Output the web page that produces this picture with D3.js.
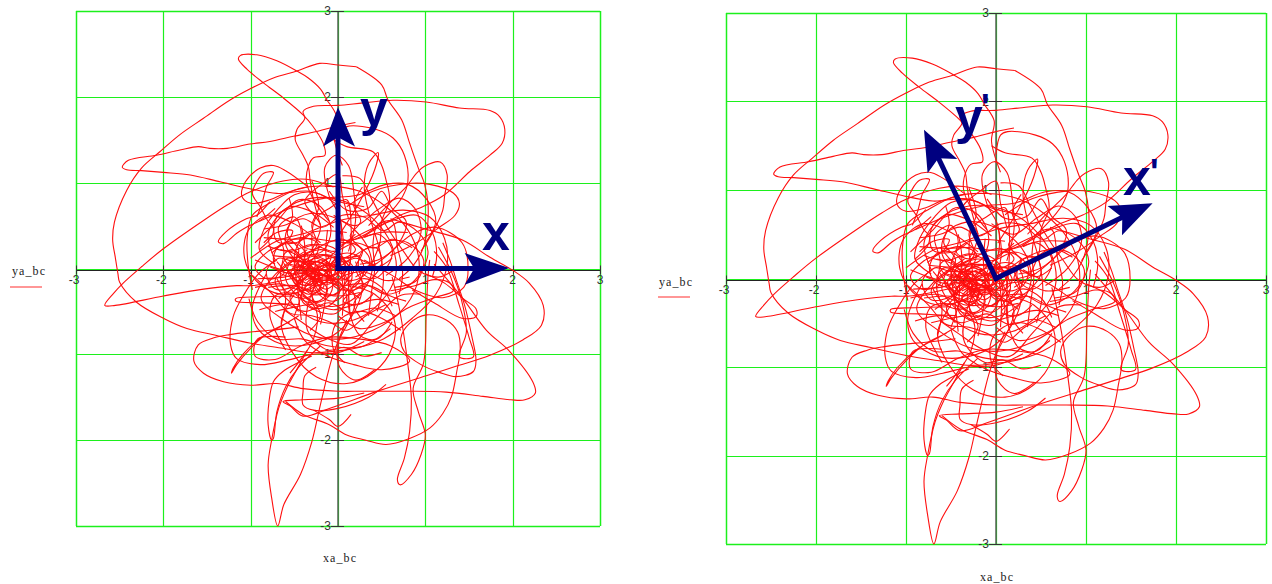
<!DOCTYPE html>
<html><head><meta charset="utf-8">
<script src="https://cdn.jsdelivr.net/npm/d3@7"></script>
<style>html,body{margin:0;padding:0;background:#fff}svg{display:block}</style>
</head><body><svg id="c" width="1272" height="584"></svg>
<script>
const tickValues=[-3,-2,-1,0,1,2,3];
const tickLabels=["-3","-2","-1","","1","2","3"];
const seriesName="ya_bc", xName="xa_bc";
// Trace of ya_bc against xa_bc, stroke by stroke
const bigLeftLoop=[[0.21,2.35],[0,2.37],[-0.21,2.39],[-0.47,2.30],[-0.74,2.22],[-1.01,2.09],[-1.24,1.96],[-1.54,1.75],[-1.81,1.56],[-2.04,1.36],[-2.25,1.17],[-2.42,0.91],[-2.56,0.54],[-2.58,0.33],[-2.55,0.13],[-2.52,-0.06],[-2.5,-0.16],[-2.31,-0.39],[-2,-0.58],[-1.73,-0.7],[-1.39,-0.78],[-1,-0.87],[-0.63,-0.93],[-0.32,-0.98],[0,-0.96],[0.3,-0.9],[0.6,-0.7]];
const topRightFall=[[0.21,2.35],[0.5,2.14],[0.57,1.97],[0.73,1.73],[0.82,1.46],[0.92,1.17],[0.99,0.99],[1.03,0.76],[1.03,0.55],[1.01,0.37],[0.96,0.2],[0.85,0.02],[0.7,-0.12]];
const leftTip=[[0.05,0.12],[-0.3,-0.05],[-0.7,-0.155],[-0.99,-0.2],[-1.16,-0.2],[-1.54,-0.24],[-2,-0.32],[-2.55,-0.43],[-2.67,-0.43],[-2.57,-0.29],[-2.46,-0.17],[-2.25,0.02],[-2,0.23],[-1.54,0.56],[-1.27,0.74],[-1.01,0.89],[-0.63,1.02],[-0.36,1.04],[-0.05,0.95]];
const midLeftTip=[[0.2,1.7],[0,1.66],[-0.23,1.6],[-0.51,1.54],[-0.78,1.48],[-1.01,1.45],[-1.27,1.4],[-1.47,1.4],[-1.6,1.42],[-1.81,1.38],[-2.08,1.32],[-2.4,1.26],[-2.47,1.18],[-2.42,1.15],[-2.25,1.14],[-2,1.12],[-1.69,1.09],[-1.35,1.01],[-1.01,0.93],[-0.7,0.875],[-0.32,0.9],[0,0.78],[0.3,0.72]];
const topPeak=[[0.05,1.2],[-0.05,1.55],[-0.02,1.78],[-0.13,1.97],[-0.2,2.09],[-0.34,2.22],[-0.47,2.3],[-0.7,2.42],[-0.93,2.49],[-1.12,2.48],[-1.14,2.44],[-1.04,2.32],[-0.85,2.16],[-0.63,1.99],[-0.4,1.79],[-0.29,1.66],[-0.17,1.46],[-0.15,1.32],[-0.28,1.29],[-0.34,1.19],[-0.36,1.0],[-0.25,0.75],[-0.1,0.55]];
const rightTopLoop=[[0.29,0.37],[0.67,0.6],[0.97,0.72],[1.22,0.86],[1.51,1.13],[1.74,1.32],[1.88,1.46],[1.91,1.62],[1.85,1.77],[1.74,1.84],[1.39,1.87],[1.01,1.94],[0.63,1.96],[0.29,1.93],[0,1.9],[-0.28,1.89],[-0.4,1.83],[-0.38,1.75],[-0.47,1.62],[-0.49,1.5],[-0.4,1.32],[-0.34,1.19],[-0.32,1.03],[-0.28,0.8],[-0.2,0.5]];
const bump=[[0.35,0.5],[0.59,0.76],[0.78,0.95],[0.9,1.11],[0.99,1.19],[1.17,1.24],[1.25,1.09],[1.22,0.84],[1.2,0.68],[1.1,0.45],[0.95,0.2]];
const innerRightA=[[0.0,1.4],[0.05,1.62],[0.13,1.66],[0.44,1.62],[0.63,1.52],[0.76,1.32],[0.8,1.01],[0.74,0.84],[0.55,0.6],[0.35,0.42],[0.1,0.3]];
const innerRightB=[[-0.05,1.5],[0.1,1.42],[0.4,1.36],[0.5,1.2],[0.55,1.03],[0.59,0.8],[0.5,0.55],[0.48,0.3],[0.38,0.05]];
const loopRight=[[0.1,0.72],[0.4,0.9],[0.8,0.99],[1.05,0.98],[1.32,0.88],[1.39,0.76],[1.34,0.62],[1.16,0.48],[0.9,0.3],[0.6,0.15]];
const farRightLobe=[[0.6,0.58],[1.0,0.46],[1.43,0.33],[1.74,0.13],[2.0,-0.02],[2.19,-0.17],[2.35,-0.43],[2.33,-0.66],[2.12,-0.83],[1.74,-1.01],[1.35,-1.14],[1.01,-1.25],[0.48,-1.42],[-0.1,-1.63],[-0.4,-1.72],[-0.55,-1.6],[-0.63,-1.55],[-0.4,-1.53],[0,-1.51],[0.3,-1.45]];
const lowerRightTip=[[1.0,-0.06],[1.22,-0.17],[1.43,-0.35],[1.58,-0.47],[1.58,-0.56],[1.42,-0.58],[1.1,-0.4],[0.85,-0.25]];
const longDiagonal=[[1.1,0.05],[1.43,-0.35],[1.7,-0.72],[1.97,-0.97],[2.23,-1.32],[2.26,-1.45],[2.14,-1.53],[1.98,-1.53],[1.66,-1.49],[1.24,-1.44],[0.78,-1.43],[0.29,-1.43],[0,-1.43],[-0.4,-1.4],[-0.7,-1.34],[-1,-1.36],[-1.31,-1.32],[-1.54,-1.22],[-1.65,-1.08],[-1.6,-0.89],[-1.43,-0.81],[-1.24,-0.77],[-1,-0.74],[-0.78,-0.72],[-0.45,-0.68]];
const bottomLobe=[[-0.35,-0.95],[-0.44,-1.12],[-0.59,-1.4],[-0.68,-1.63],[-0.76,-2.0],[-0.8,-2.29],[-0.76,-2.67],[-0.69,-3.0],[-0.62,-2.75],[-0.43,-2.4],[-0.3,-2.02],[-0.22,-1.67],[-0.13,-1.28],[-0.07,-1.05],[0,-0.85],[0.1,-0.6]];
const narrowLoop=[[-0.3,-1.02],[-0.63,-1.2],[-0.74,-1.32],[-0.79,-1.55],[-0.8,-1.82],[-0.76,-2.0],[-0.74,-1.98],[-0.7,-1.67],[-0.6,-1.38],[-0.45,-1.15],[-0.2,-0.9]];
const smallLeftLoop=[[-0.45,-0.55],[-0.63,-0.66],[-0.89,-0.81],[-1.09,-1.0],[-1.2,-1.16],[-1.22,-1.22],[-1.16,-1.12],[-1,-0.93],[-0.8,-0.75],[-0.55,-0.62]];
const wideLeftLoop=[[-0.7,0.1],[-0.9,-0.05],[-1.08,-0.31],[-1.2,-0.56],[-1.23,-0.89],[-1.16,-1.05],[-0.89,-1.12],[-0.59,-1.07],[-0.3,-1.0],[0.0,-0.98],[0.3,-0.85]];
const leftBar=[[-0.5,-0.32],[-0.9,-0.33],[-1.17,-0.35],[-1.17,-0.38],[-0.85,-0.4],[-0.45,-0.42]];
const bottomRightLoop=[[-0.6,-1.55],[-0.4,-1.7],[-0.1,-1.82],[0.1,-1.94],[0.32,-2],[0.55,-2.05],[0.82,-1.98],[1.05,-1.86],[1.2,-1.69],[1.3,-1.49],[1.36,-1.2],[1.4,-0.93],[1.37,-0.74],[1.24,-0.6],[1.01,-0.54],[0.82,-0.64],[0.72,-0.81],[0.76,-0.97],[0.95,-1.12],[1.16,-1.21],[1.35,-1.26],[1.55,-1.2],[1.58,-1.07],[1.53,-0.78],[1.45,-0.43],[1.35,-0.12],[1.28,0.1],[1.2,0.3]];
const rightNarrowLobe=[[0.62,-0.1],[0.67,-0.31],[0.73,-0.62],[0.8,-1.12],[0.84,-1.51],[0.82,-1.9],[0.76,-2.21],[0.68,-2.46],[0.71,-2.52],[0.84,-2.4],[0.95,-2.17],[1,-1.94],[0.92,-1.67],[0.86,-1.4],[0.98,-1.1],[1.01,-0.54],[1.03,-0.1],[1.05,0.1]];
const rightSpire=[[1.15,0.25],[1.3,-0.04],[1.41,-0.35],[1.47,-0.74],[1.39,-1.03],[1.55,-1.03],[1.5,-0.8],[1.38,-0.4],[1.25,0],[1.1,0.2]];
const lowerLeftHook=[[-0.25,-1.15],[-0.38,-1.25],[-0.4,-1.43],[-0.4,-1.59],[-0.28,-1.65],[0,-1.63],[0.35,-1.5],[0.55,-1.35]];
const hookDown=[[-0.28,-1.65],[-0.1,-1.76],[0,-1.84],[0.15,-1.7]];
const upperLeftBlob=[[-0.34,0.95],[-0.6,1.14],[-0.74,1.2],[-0.89,1.17],[-1.06,1.01],[-1.1,0.84],[-1,0.76],[-0.78,0.8],[-0.6,0.88],[-0.35,0.95]];
const slimLoopA=[[-0.93,0.6],[-0.87,0.76],[-0.82,0.95],[-0.74,1.12],[-0.85,1.11],[-0.93,1.01],[-0.98,0.87],[-0.89,0.72],[-0.8,0.55],[-0.74,0.48],[-0.76,0.37],[-0.9,0.22]];
const slimLoopB=[[-0.72,0.7],[-0.89,0.56],[-1.05,0.48],[-1.16,0.41],[-1.31,0.29],[-1.37,0.31],[-1.28,0.43],[-1.05,0.58],[-0.93,0.62],[-0.78,0.78]];
const ringA=[[-0.98,-0.25],[-1.03,0.05],[-1.04,0.35],[-0.98,0.62],[-0.75,0.78],[-0.45,0.93],[-0.1,0.96],[0.25,0.9],[0.55,0.72],[0.8,0.45],[0.92,0.15],[0.9,-0.2],[0.72,-0.5],[0.4,-0.72],[0.05,-0.82],[-0.3,-0.78],[-0.65,-0.58],[-0.88,-0.35],[-0.7,-0.05],[-0.35,0.22]];
const ringB=[[-0.72,0.1],[-0.8,0.4],[-0.62,0.68],[-0.3,0.82],[0.08,0.78],[0.4,0.58],[0.62,0.26],[0.66,-0.08],[0.48,-0.4],[0.18,-0.6],[-0.2,-0.62],[-0.52,-0.42],[-0.72,-0.14],[-0.5,0.1],[-0.2,0.25]];
const ringC=[[-1.0,0.12],[-0.7,0.32],[-0.35,0.42],[0.02,0.56],[0.38,0.62],[0.75,0.68],[1.05,0.6],[1.22,0.35],[1.25,0.05],[1.12,-0.3],[0.85,-0.58],[0.52,-0.82],[0.2,-0.92],[-0.12,-0.9],[-0.42,-0.82],[-0.7,-0.82],[-0.92,-0.62],[-1.02,-0.35]];
const ringD=[[-0.42,0.02],[-0.6,0.28],[-0.55,0.52],[-0.32,0.64],[-0.06,0.6],[0.2,0.44],[0.36,0.2],[0.38,-0.08],[0.22,-0.32],[-0.04,-0.44],[-0.3,-0.38],[-0.46,-0.18],[-0.3,0.06]];
const ringE=[[0.2,-0.1],[0.5,0.1],[0.85,0.4],[1.12,0.48],[1.42,0.3],[1.49,0],[1.44,-0.22],[1.2,-0.34],[0.9,-0.26],[0.62,-0.08],[0.3,0.1]];
const ringF=[[0.6,-0.26],[0.88,-0.2],[1.1,-0.13],[1.28,-0.17],[1.32,-0.26],[1.1,-0.34],[0.8,-0.46],[0.55,-0.62],[0.25,-0.7],[0,-0.55]];
const ringG=[[-0.2,0.3],[-0.5,0.52],[-0.8,0.62],[-1.03,0.44],[-1.07,0.12],[-0.92,-0.16],[-0.65,-0.3],[-0.32,-0.22],[-0.12,-0.02],[0.02,0.25],[0.02,0.6],[-0.1,0.84],[-0.15,1.18],[-0.02,1.32],[0.12,1.2],[0.18,0.9],[0.2,0.55],[0.12,0.2]];
const ringH=[[0.02,0.4],[0.25,0.78],[0.42,1.15],[0.46,1.35],[0.35,1.22],[0.3,0.95],[0.36,0.62],[0.48,0.2],[0.52,-0.15],[0.45,-0.5]];
const ringI=[[-0.6,-0.8],[-0.92,-0.82],[-0.95,-1.02],[-0.72,-1.06],[-0.42,-0.9],[-0.1,-0.8],[0.24,-0.82],[0.6,-0.9],[0.82,-1.08],[0.5,-1.18],[0.18,-1.12],[-0.12,-1.02],[-0.38,-0.84],[-0.5,-0.58]];
const ringJ=[[-0.5,-0.3],[-0.65,-0.62],[-0.52,-0.98],[-0.25,-1.26],[0.1,-1.34],[0.42,-1.2],[0.62,-0.92],[0.64,-0.58],[0.42,-0.3],[0.15,-0.2]];
const ringK=[[0.42,-1.18],[0.2,-1.3],[0.02,-1.15],[0,-0.88],[0.12,-0.62],[0.2,-0.38],[0.1,-0.12],[-0.02,0.15]];
const ringL=[[-0.82,-0.06],[-0.98,-0.45],[-0.92,-0.7],[-0.65,-0.88],[-0.3,-0.88],[0,-0.74],[0.2,-0.48],[0.28,-0.2],[0.2,0.08]];
const ringM=[[-0.85,0.46],[-0.62,0.5],[-0.4,0.58],[-0.18,0.48],[0.05,0.62],[0.3,0.6],[0.52,0.44],[0.7,0.54],[0.92,0.42],[1.03,0.2],[0.95,-0.04],[0.78,-0.22],[0.55,-0.3],[0.3,-0.18],[0.08,-0.2]];
const ringN=[[-0.56,0.82],[-0.52,0.62],[-0.58,0.4],[-0.45,0.22],[-0.5,0.02],[-0.42,-0.15],[-0.55,-0.34],[-0.45,-0.5]];
const ringO=[[0.28,0.95],[0.18,0.74],[0.26,0.55],[0.14,0.38],[0.28,0.2],[0.2,0],[0.3,-0.22],[0.18,-0.42],[0.3,-0.62]];
const ringP=[[-0.3,1.02],[-0.22,0.72],[-0.3,0.5],[-0.24,0.28],[-0.34,0.1],[-0.22,-0.1],[-0.3,-0.3],[-0.2,-0.55],[-0.32,-0.72]];
const ringQ=[[-0.8,0.26],[-0.55,0.2],[-0.3,0.28],[-0.05,0.2],[0.2,0.3],[0.42,0.24],[0.62,0.34],[0.85,0.24]];
const ringR=[[-0.95,-0.22],[-0.65,-0.18],[-0.4,-0.26],[-0.12,-0.16],[0.12,-0.26],[0.35,-0.2],[0.6,-0.32],[0.78,-0.38]];
const ringS=[[-0.78,0.02],[-0.5,-0.06],[-0.28,0.08],[-0.02,0.02],[0.2,0.12],[0.45,0.02],[0.62,0.12]];
const ringT=[[-0.9,-0.48],[-0.6,-0.42],[-0.38,-0.5],[-0.1,-0.4],[0.15,-0.52],[0.42,-0.46],[0.66,-0.55]];
const coreA=[[-0.62,0.06],[-0.5,-0.12],[-0.36,-0.2],[-0.22,-0.1],[-0.26,0.06],[-0.42,0.1],[-0.5,0],[-0.42,-0.14],[-0.22,-0.2],[-0.08,-0.08],[-0.12,0.08],[-0.3,0.14],[-0.42,0.04],[-0.32,-0.08],[-0.14,-0.12],[0,-0.04],[-0.02,0.1],[-0.2,0.16],[-0.34,0.06]];
const coreB=[[-0.3,0.02],[-0.18,-0.26],[-0.02,-0.3],[0.08,-0.14],[-0.02,0.02],[-0.2,0.02],[-0.28,-0.14],[-0.14,-0.32],[0.04,-0.24],[0.12,-0.04],[0,0.12],[-0.18,0.08],[-0.3,-0.06],[-0.22,-0.3],[-0.05,-0.38],[0.1,-0.26],[0.16,-0.06],[0.04,0.14]];
const coreC=[[-0.7,-0.12],[-0.56,-0.3],[-0.36,-0.34],[-0.2,-0.22],[-0.24,-0.04],[-0.44,0.02],[-0.6,-0.08],[-0.52,-0.26],[-0.32,-0.4],[-0.12,-0.34],[-0.06,-0.16],[-0.22,0.02],[-0.42,0.08],[-0.58,0.12],[-0.66,0.0]];
const coreD=[[-0.4,0.24],[-0.22,0.28],[-0.02,0.22],[0.08,0.04],[-0.08,-0.08],[-0.28,-0.02],[-0.38,0.14],[-0.2,0.22],[0.02,0.14],[0.14,0.1],[0.04,-0.1],[-0.16,-0.14],[-0.34,-0.08],[-0.46,0.08],[-0.3,0.2]];
const coreE=[[-0.46,-0.28],[-0.28,-0.46],[-0.08,-0.42],[0.02,-0.24],[-0.14,-0.1],[-0.34,-0.18],[-0.42,-0.36],[-0.22,-0.5],[-0.02,-0.52],[0.1,-0.36],[0.02,-0.16],[-0.2,-0.08],[-0.38,-0.14]];
const coreF=[[-0.76,0.18],[-0.6,0.3],[-0.4,0.36],[-0.22,0.28],[-0.3,0.1],[-0.5,0.08],[-0.68,0.12],[-0.82,-0.04],[-0.72,-0.24],[-0.5,-0.2],[-0.34,-0.02],[-0.48,0.16],[-0.66,0.22]];
const coreG=[[0.02,0.3],[0.2,0.28],[0.36,0.12],[0.3,-0.08],[0.12,-0.14],[-0.04,-0.02],[0.02,0.16],[0.2,0.16],[0.3,0],[0.18,-0.22],[0,-0.24],[-0.12,-0.06],[-0.08,0.12]];
const coreH=[[-0.38,-0.04],[-0.3,-0.1],[-0.22,-0.04],[-0.16,0.04],[-0.24,0.08],[-0.34,0.02],[-0.26,-0.06],[-0.14,-0.06],[-0.08,0.02],[-0.16,0.1],[-0.28,0.06],[-0.36,-0.06],[-0.28,-0.14],[-0.16,-0.14],[-0.06,-0.08],[-0.02,0.02],[-0.12,0.06],[-0.24,0],[-0.32,-0.08],[-0.22,-0.16],[-0.1,-0.18],[-0.02,-0.1],[0.02,0],[-0.08,0.06]];
const coreI=[[-0.55,-0.04],[-0.46,-0.14],[-0.36,-0.1],[-0.38,0],[-0.48,0.04],[-0.54,-0.06],[-0.44,-0.18],[-0.3,-0.18],[-0.26,-0.06],[-0.36,0.04],[-0.5,0.1],[-0.58,0],[-0.5,-0.16],[-0.36,-0.26],[-0.22,-0.24],[-0.18,-0.1]];
const coreJ=[[-0.05,0.02],[0.04,-0.06],[0.12,0.02],[0.06,0.1],[-0.04,0.1],[-0.1,0],[-0.02,-0.12],[0.1,-0.12],[0.18,-0.02],[0.12,0.08],[0,0.06],[-0.1,-0.06],[-0.04,-0.18],[0.08,-0.2],[0.16,-0.12]];
const coreK=[[-0.42,0.14],[-0.52,0.22],[-0.62,0.16],[-0.58,0.06],[-0.46,0.02],[-0.34,0.1],[-0.38,0.2],[-0.5,0.3],[-0.66,0.28],[-0.74,0.12],[-0.68,-0.04],[-0.54,-0.1]];
const coreL=[[-0.18,-0.3],[-0.3,-0.3],[-0.38,-0.22],[-0.3,-0.12],[-0.18,-0.16],[-0.12,-0.26],[-0.22,-0.38],[-0.36,-0.34],[-0.46,-0.2],[-0.4,-0.08],[-0.26,-0.02]];
const coreM=[[0.1,0.42],[-0.1,0.44],[-0.3,0.42],[-0.44,0.3],[-0.3,0.22],[-0.12,0.3],[0.06,0.34],[0.2,0.22],[0.06,0.12],[-0.12,0.16],[-0.26,0.12]];
const coreN=[[0.3,0.36],[0.46,0.4],[0.62,0.22],[0.55,0],[0.4,-0.12],[0.24,0],[0.28,0.2],[0.44,0.24],[0.5,0.06],[0.36,-0.14],[0.2,-0.24],[0.06,-0.38],[0.24,-0.42],[0.4,-0.3]];
const coreO=[[-0.85,0.3],[-0.7,0.42],[-0.52,0.44],[-0.6,0.3],[-0.8,0.2],[-0.95,0.02],[-0.82,-0.12],[-0.62,-0.06],[-0.7,0.08]];
const arcA=[[-0.9,0.55],[-0.5,0.72],[-0.15,0.82],[0.2,0.85],[0.55,0.98],[0.8,0.98],[1.02,0.8],[1.12,0.55],[1.0,0.3]];
const arcB=[[0,0.25],[0.3,0.42],[0.6,0.55],[0.9,0.62],[1.08,0.42],[1.13,0.15],[1.08,-0.1]];
const arcC=[[-0.1,0.9],[0.1,0.68],[0.34,0.7],[0.5,0.9],[0.62,0.7],[0.78,0.55],[0.7,0.3],[0.5,0.12],[0.25,0.05]];
const arcD=[[0.05,1.08],[0.25,1.05],[0.38,0.82],[0.55,0.5],[0.75,0.2],[0.92,-0.02],[1.15,-0.1],[1.32,-0.02]];
const arcE=[[-0.05,0.62],[0.2,0.5],[0.45,0.68],[0.7,0.82],[0.88,0.7],[0.95,0.42],[0.8,0.12],[0.55,-0.08]];
const arcF=[[0.05,0.04],[0.3,0.22],[0.55,0.32],[0.8,0.3],[0.98,0.1],[0.9,-0.14],[0.65,-0.22]];
const arcG=[[-0.05,0.48],[-0.3,0.66],[-0.55,0.72],[-0.72,0.56],[-0.7,0.32],[-0.48,0.3],[-0.32,0.4]];
const arcH=[[-0.95,0.3],[-0.7,0.55],[-0.45,0.8],[-0.2,0.72],[-0.08,0.45],[-0.18,0.2],[-0.42,0.16]];
const arcI=[[-0.02,0.75],[-0.25,0.88],[-0.5,0.86],[-0.68,0.7],[-0.85,0.45],[-0.9,0.22],[-0.72,0.05]];
const arcJ=[[-0.3,0.22],[-0.2,0.5],[-0.38,0.78],[-0.16,1.0],[0,1.1],[0.05,0.85],[0.12,0.58]];
const arcK=[[-0.98,-0.08],[-0.75,-0.3],[-0.55,-0.52],[-0.3,-0.55],[-0.1,-0.62],[0.1,-0.72],[0.32,-0.55],[0.55,-0.42]];
const arcL=[[-0.2,-0.05],[-0.35,-0.45],[-0.35,-0.72],[-0.12,-0.95],[0.08,-0.92],[0.28,-1.02],[0.5,-0.98]];
const arcM=[[-0.6,-0.95],[-0.78,-0.55],[-0.72,-0.32],[-0.45,-0.3],[-0.25,-0.48],[-0.28,-0.82],[-0.42,-1.05],[-0.55,-1.22]];
const arcN=[[0.72,-0.72],[0.5,-0.58],[0.28,-0.5],[0.08,-0.55],[-0.05,-0.7],[-0.05,-0.95],[0.08,-1.1]];
const arcO=[[0.62,-0.62],[0.45,-0.82],[0.25,-0.78],[0.12,-0.32],[0.28,-0.12],[0.5,-0.22],[0.62,-0.44]];
const arcP=[[0.95,-0.3],[0.7,-0.32],[0.42,-0.6],[0.15,-0.88],[-0.15,-0.8],[-0.42,-0.62],[-0.62,-0.48]];
const zigA=[[-0.95,0.1],[-0.6,-0.02],[-0.35,0.0],[-0.1,-0.02],[0.15,-0.02],[0.45,0.06]];
const zigB=[[-0.5,-0.55],[-0.42,-0.3],[-0.4,0],[-0.38,0.25],[-0.42,0.5]];
const zigC=[[-0.2,-0.65],[-0.15,-0.4],[-0.12,-0.1],[-0.14,0.2],[-0.12,0.45]];
const zigD=[[0.05,-0.55],[0.06,-0.25],[0.03,0.05],[0.06,0.3],[0.03,0.55]];
const zigE=[[-0.68,-0.35],[-0.4,-0.14],[-0.2,0.05],[0,0.22],[0.2,0.4]];
const zigF=[[0.25,-0.35],[0.02,-0.18],[-0.2,-0.05],[-0.42,0.12],[-0.62,0.35]];
const zigG=[[-0.8,-0.22],[-0.5,-0.2],[-0.25,-0.28],[0,-0.32],[0.25,-0.28]];
const zigH=[[-0.75,0.15],[-0.48,0.13],[-0.22,0.16],[0,0.12],[0.25,0.15]];
const zigI=[[-0.28,-0.4],[-0.32,-0.15],[-0.26,0.04],[-0.3,0.3],[-0.26,0.58],[-0.1,0.7],[0.1,0.8],[0.15,0.48],[0.14,0.1],[0.12,-0.2],[0.14,-0.55]];
const zigJ=[[0.35,-0.55],[0.38,-0.3],[0.42,0],[0.4,0.28],[0.45,0.5],[0.62,0.55],[0.68,0.25],[0.74,-0.05],[0.7,-0.3]];
const zigK=[[-0.65,-0.65],[-0.6,-0.35],[-0.66,-0.1],[-0.62,0.2],[-0.68,0.48],[-0.5,0.6],[-0.42,0.42],[-0.5,0.15],[-0.46,-0.25],[-0.42,-0.6]];
const zigL=[[-0.72,-0.5],[-0.5,-0.45],[-0.3,-0.42],[-0.05,-0.48],[0.2,-0.42],[0.45,-0.36],[0.7,-0.42]];
const zigM=[[-0.85,0.36],[-0.55,0.34],[-0.3,0.35],[-0.05,0.32],[0.2,0.34],[0.48,0.42],[0.8,0.42]];
const zigN=[[-0.92,-0.12],[-0.62,-0.1],[-0.38,-0.06],[-0.14,-0.24],[0.08,-0.08],[0.3,-0.04],[0.55,-0.14],[0.82,-0.1]];
const zigO=[[-0.55,0.05],[-0.34,-0.02],[-0.16,-0.2],[-0.34,-0.3],[-0.52,-0.12],[-0.4,0.06],[-0.18,0.06],[-0.04,-0.14],[-0.18,-0.02],[-0.46,-0.04],[-0.26,0.12],[-0.08,0.02]];
const allStrokes=[bigLeftLoop,topRightFall,leftTip,midLeftTip,topPeak,rightTopLoop,bump,innerRightA,innerRightB,loopRight,farRightLobe,lowerRightTip,longDiagonal,bottomLobe,narrowLoop,smallLeftLoop,wideLeftLoop,leftBar,bottomRightLoop,rightNarrowLobe,rightSpire,lowerLeftHook,hookDown,upperLeftBlob,slimLoopA,slimLoopB,ringA,ringB,ringC,ringD,ringE,ringF,ringG,ringH,ringI,ringJ,ringK,ringL,ringM,ringN,ringO,ringP,ringQ,ringR,ringS,ringT,coreA,coreB,coreC,coreD,coreE,coreF,coreG,coreH,coreI,coreJ,coreK,coreL,coreM,coreN,coreO,arcA,arcB,arcC,arcD,arcE,arcF,arcG,arcH,arcI,arcJ,arcK,arcL,arcM,arcN,arcO,arcP,zigA,zigB,zigC,zigD,zigE,zigF,zigG,zigH,zigI,zigJ,zigK,zigL,zigM,zigN,zigO];

const svg=d3.select("#c");
const green="#1cf01c", red="#ff0f0f", navy="#000080";

function panel(o){
  const x=d3.scaleLinear().domain([-3,3]).range([o.x0,o.x1]);
  const y=d3.scaleLinear().domain([-3,3]).range([o.y0,o.y1]);
  const g=svg.append("g");
  g.append("g").selectAll("line").data(tickValues).join("line")
    .attr("x1",d=>Math.round(x(d))+.5).attr("x2",d=>Math.round(x(d))+.5).attr("y1",y(-3)).attr("y2",y(3))
    .attr("stroke",green).attr("stroke-width",d=>Math.abs(d)===3?1.5:1.2);
  g.append("g").selectAll("line").data(tickValues).join("line")
    .attr("x1",x(-3)).attr("x2",x(3)).attr("y1",d=>Math.round(y(d))+.5).attr("y2",d=>Math.round(y(d))+.5)
    .attr("stroke",green).attr("stroke-width",d=>Math.abs(d)===3?1.5:1.2);
  // Axes crossing at the origin
  const ax=g.append("g").attr("font-family","Liberation Sans, sans-serif").attr("font-size",12).attr("fill","#333");
  ax.append("line").attr("x1",x(-3)).attr("x2",x(3)).attr("y1",Math.round(y(0))+1.5).attr("y2",Math.round(y(0))+1.5).attr("stroke","#222");
  ax.append("line").attr("x1",x(0)).attr("x2",x(0)).attr("y1",y(-3)).attr("y2",y(3)).attr("stroke","#555").attr("stroke-width",1.4);
  tickValues.forEach((t,i)=>{
    if(t===0) return;
    ax.append("line").attr("x1",Math.round(x(t))+.5).attr("x2",Math.round(x(t))+.5).attr("y1",y(0)-3).attr("y2",y(0)+6).attr("stroke","#333");
    ax.append("text").attr("x",x(t)-(t<0?2:0)).attr("y",y(0)+15).attr("text-anchor","middle").text(tickLabels[i]);
    ax.append("line").attr("x1",x(0)-7).attr("x2",x(0)+6).attr("y1",Math.round(y(t))+.5).attr("y2",Math.round(y(t))+.5).attr("stroke","#333");
    ax.append("text").attr("x",x(0)-7).attr("y",y(t)+4).attr("text-anchor","end").text(tickLabels[i]);
  });
  // Trace
  const line=d3.line().x(d=>x(d[0])).y(d=>y(d[1])).curve(d3.curveCatmullRom.alpha(.5));
  g.append("g").selectAll("path").data(allStrokes).join("path")
    .attr("d",line).attr("fill","none").attr("stroke",red).attr("stroke-width",1.1);
  // Titles and legend
  const lab=g.append("g").attr("font-family","Liberation Serif, serif").attr("font-size",12).attr("fill","#222");
  lab.append("text").attr("x",o.yLab[0]).attr("y",o.yLab[1]).attr("textLength",33).text(seriesName);
  lab.append("text").attr("x",o.xLab[0]).attr("y",o.xLab[1]).attr("textLength",33).text(xName);
  g.append("line").attr("x1",o.leg[0]).attr("x2",o.leg[1]).attr("y1",o.leg[2]).attr("y2",o.leg[2]).attr("stroke","#ff5050").attr("stroke-width",1.2);
  // Annotation arrows (in axis units)
  const ag=g.append("g");
  o.arrows.forEach(a=>{
    const [tip,b1,notch,b2]=a.map(p=>[x(p[0]),y(p[1])]);
    ag.append("line").attr("x1",x(0)).attr("y1",y(0)).attr("x2",notch[0]).attr("y2",notch[1]).attr("stroke",navy).attr("stroke-width",5).attr("stroke-linecap","square");
    ag.append("path").attr("d",d3.line()([tip,b1,notch,b2])+"Z").attr("fill",navy);
  });
  o.labels.forEach(l=>{
    ag.append("text").attr("x",l.x).attr("y",l.y).attr("font-family","Liberation Sans, sans-serif").attr("font-weight",700).attr("font-size",l.s||50).attr("fill",navy).text(l.t);
  });
}
panel({x0:76,x1:600,y0:526,y1:11,
  yLab:[12,275],xLab:[323,562],leg:[10,42,287],
  arrows:[[[1.96,0.005],[1.45,0.18],[1.56,0],[1.45,-0.19]],
          [[0,1.88],[0.195,1.42],[0,1.53],[-0.17,1.42]]],
  labels:[{t:"x",x:482,y:250},{t:"y",x:360,y:126}]});
panel({x0:726,x1:1266,y0:544,y1:13,
  yLab:[659,286],xLab:[980,581],leg:[658,690,297],
  arrows:[[[1.74,0.85],[1.24,0.82],[1.403,0.69],[1.4,0.49]],
          [[-0.8,1.68],[-0.43,1.35],[-0.64,1.36],[-0.76,1.19]]],
  labels:[{t:"x",x:1123,y:195},{t:"'",x:1150,y:185,s:36},{t:"y",x:955,y:134},{t:"'",x:981,y:120,s:36}]});
</script></body></html>
